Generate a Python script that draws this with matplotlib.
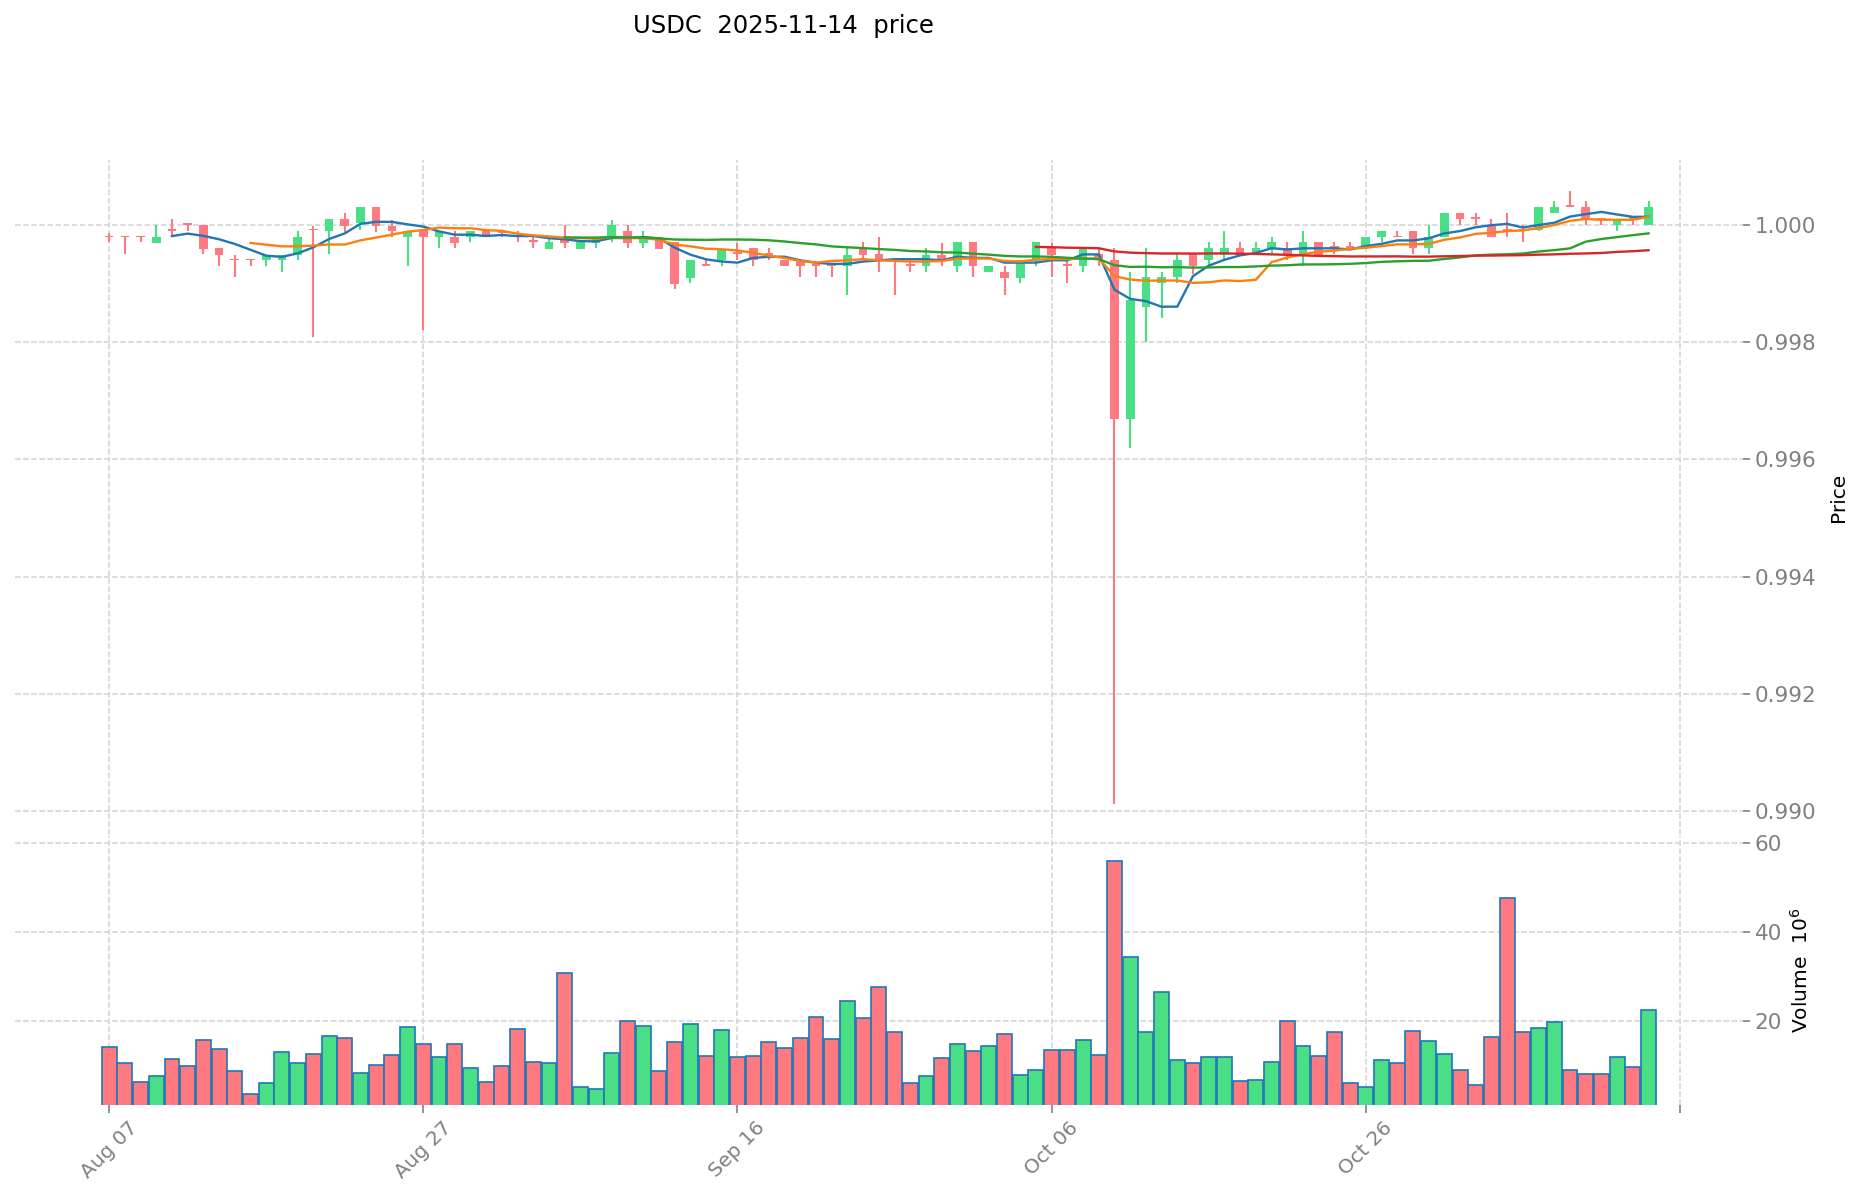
import matplotlib
matplotlib.use("Agg")
import matplotlib.pyplot as plt
import numpy as np
import pandas as pd
import datetime as dt

# daily candles, Aug 07 .. Nov 13 2025
opens = [0.99978, 0.99978, 0.99978, 0.99969, 0.99989, 0.99999, 0.99999, 0.99960, 0.99939, 0.99939,
         0.99939, 0.99939, 0.99949, 0.99990, 0.99989, 1.00010, 1.00003, 1.00030, 0.99997, 0.99978,
         0.99990, 0.99978, 0.99979, 0.99978, 0.99989, 0.99986, 0.99980, 0.99970, 0.99959, 0.99978,
         0.99959, 0.99969, 0.99978, 0.99989, 0.99969, 0.99978, 0.99970, 0.99909, 0.99929, 0.99939,
         0.99950, 0.99960, 0.99949, 0.99939, 0.99939, 0.99929, 0.99929, 0.99929, 0.99960, 0.99950,
         0.99939, 0.99929, 0.99929, 0.99949, 0.99929, 0.99970, 0.99919, 0.99920, 0.99909, 0.99939,
         0.99960, 0.99929, 0.99929, 0.99950, 0.99940, 0.99669, 0.99859, 0.99900, 0.99910, 0.99950,
         0.99939, 0.99949, 0.99960, 0.99949, 0.99960, 0.99960, 0.99949, 0.99970, 0.99960, 0.99960,
         0.99960, 0.99978, 0.99978, 0.99989, 0.99960, 0.99978, 1.00020, 1.00010, 0.99999, 0.99989,
         0.99989, 0.99991, 1.00020, 1.00030, 1.00030, 1.00008, 0.99999, 1.00010, 0.99999]
highs = [0.99986, 0.99978, 0.99978, 0.99999, 1.00010, 0.99999, 0.99999, 0.99960, 0.99948, 0.99939,
         0.99949, 0.99949, 0.99989, 0.99998, 1.00010, 1.00019, 1.00030, 1.00030, 1.00008, 0.99989,
         0.99990, 0.99989, 0.99989, 0.99989, 0.99989, 0.99989, 0.99989, 0.99978, 0.99977, 0.99999,
         0.99970, 0.99978, 1.00008, 0.99999, 0.99989, 0.99978, 0.99970, 0.99939, 0.99939, 0.99959,
         0.99969, 0.99960, 0.99960, 0.99939, 0.99939, 0.99929, 0.99929, 0.99960, 0.99970, 0.99978,
         0.99939, 0.99939, 0.99960, 0.99969, 0.99970, 0.99970, 0.99929, 0.99929, 0.99939, 0.99970,
         0.99969, 0.99939, 0.99959, 0.99960, 0.99960, 0.99919, 0.99960, 0.99919, 0.99950, 0.99950,
         0.99970, 0.99989, 0.99970, 0.99970, 0.99978, 0.99970, 0.99989, 0.99970, 0.99970, 0.99970,
         0.99978, 0.99989, 0.99989, 0.99989, 0.99999, 1.00020, 1.00020, 1.00019, 1.00009, 1.00019,
         0.99999, 1.00030, 1.00040, 1.00058, 1.00040, 1.00008, 1.00008, 1.00010, 1.00040]
lows = [0.99970, 0.99950, 0.99970, 0.99969, 0.99980, 0.99989, 0.99950, 0.99929, 0.99911, 0.99929,
        0.99929, 0.99920, 0.99939, 0.99808, 0.99950, 0.99987, 0.99990, 0.99987, 0.99979, 0.99930,
        0.99821, 0.99960, 0.99960, 0.99970, 0.99978, 0.99978, 0.99970, 0.99960, 0.99959, 0.99960,
        0.99959, 0.99960, 0.99970, 0.99960, 0.99960, 0.99959, 0.99891, 0.99900, 0.99929, 0.99929,
        0.99939, 0.99929, 0.99939, 0.99929, 0.99911, 0.99911, 0.99911, 0.99880, 0.99939, 0.99920,
        0.99880, 0.99920, 0.99920, 0.99929, 0.99920, 0.99911, 0.99919, 0.99880, 0.99900, 0.99929,
        0.99911, 0.99900, 0.99920, 0.99930, 0.99012, 0.99620, 0.99800, 0.99841, 0.99900, 0.99916,
        0.99929, 0.99939, 0.99949, 0.99949, 0.99950, 0.99939, 0.99929, 0.99949, 0.99950, 0.99960,
        0.99960, 0.99970, 0.99978, 0.99950, 0.99950, 0.99978, 0.99999, 0.99999, 0.99978, 0.99978,
        0.99970, 0.99989, 1.00020, 1.00030, 0.99999, 0.99999, 0.99989, 0.99999, 0.99999]
closes = [0.99978, 0.99978, 0.99978, 0.99979, 0.99989, 0.99999, 0.99959, 0.99949, 0.99939, 0.99939,
          0.99949, 0.99949, 0.99979, 0.99990, 1.00010, 0.99997, 1.00030, 0.99997, 0.99989, 0.99989,
          0.99978, 0.99989, 0.99969, 0.99989, 0.99978, 0.99986, 0.99980, 0.99970, 0.99970, 0.99969,
          0.99970, 0.99978, 0.99999, 0.99969, 0.99978, 0.99959, 0.99899, 0.99939, 0.99929, 0.99959,
          0.99950, 0.99939, 0.99949, 0.99929, 0.99929, 0.99929, 0.99929, 0.99949, 0.99949, 0.99939,
          0.99939, 0.99929, 0.99949, 0.99939, 0.99970, 0.99929, 0.99929, 0.99909, 0.99939, 0.99970,
          0.99949, 0.99929, 0.99959, 0.99939, 0.99669, 0.99871, 0.99910, 0.99911, 0.99940, 0.99929,
          0.99960, 0.99960, 0.99949, 0.99960, 0.99970, 0.99949, 0.99970, 0.99949, 0.99960, 0.99960,
          0.99978, 0.99989, 0.99978, 0.99960, 0.99978, 1.00020, 1.00009, 1.00010, 0.99978, 0.99989,
          0.99989, 1.00030, 1.00030, 1.00030, 1.00010, 1.00008, 1.00008, 1.00010, 1.00030]
volumes = [14.1, 10.5, 6.2, 7.6, 11.5, 9.8, 15.7, 13.7, 8.7, 3.4,
           6.0, 13.0, 10.5, 12.5, 16.6, 16.1, 8.2, 10.0, 12.3, 18.6,
           14.8, 11.8, 14.8, 9.4, 6.2, 9.8, 18.1, 10.7, 10.5, 30.7,
           5.1, 4.6, 12.7, 19.9, 18.8, 8.7, 15.2, 19.3, 12.1, 17.9,
           11.8, 12.1, 15.2, 13.9, 16.1, 20.8, 15.9, 24.4, 20.6, 27.6,
           17.5, 6.0, 7.6, 11.6, 14.8, 13.2, 14.3, 17.0, 7.8, 8.9,
           13.4, 13.4, 15.7, 12.3, 56.1, 34.3, 17.5, 26.4, 11.2, 10.5,
           11.8, 11.8, 6.4, 6.7, 10.7, 19.9, 14.3, 12.1, 17.5, 6.0,
           5.1, 11.2, 10.5, 17.7, 15.4, 12.5, 8.9, 5.5, 16.3, 47.6,
           17.5, 18.4, 19.7, 8.9, 8.0, 8.0, 11.8, 9.6, 22.4]  # x 1e6

mav_periods = [5, 10, 30, 60]
mav_colors = ["#1f77b4", "#ff7f0e", "#2ca02c", "#d62728"]

start = dt.date(2025, 8, 7)
dates = [start + dt.timedelta(days=i) for i in range(len(closes))]

o = np.array(opens)
h = np.array(highs)
l = np.array(lows)
c = np.array(closes)
v = np.array(volumes)
x = np.arange(len(c))

up_col = "#4ade85"
down_col = "#ff7a80"
up = c > o
cols = np.where(up, up_col, down_col)
grid_col = "#d3d3d3"
tick_col = "#808080"

fig = plt.figure(figsize=(18.6, 12.02), dpi=100)
ax = fig.add_axes([0.008, 0.3053, 0.929, 0.5617])
axv = fig.add_axes([0.008, 0.0807, 0.929, 0.2240], sharex=ax)

# candles
ax.vlines(x, l, h, colors=cols, linewidth=1.5, zorder=2)
body_lo = np.minimum(o, c)
body_h = np.maximum(np.abs(c - o), 0.00003)
ax.bar(x, body_h, bottom=body_lo, width=0.55, color=cols, linewidth=0, zorder=3)

# moving averages
s = pd.Series(c)
for p, col in zip(mav_periods, mav_colors):
    ax.plot(x, s.rolling(p).mean(), color=col, linewidth=1.7, zorder=4)

rng = h.max() - l.min()
ax.set_ylim(l.min() - 0.05 * rng, h.max() + 0.05 * rng)
ax.set_xlim(-6, 104)

# volume
axv.bar(x, v, width=0.95, color=cols, edgecolor="#1f77b4", linewidth=1.2, zorder=3)
axv.set_ylim(0.3 * v.min(), 1.1 * v.max())

tick_pos = [0, 20, 40, 60, 80, 100]
tick_lab = [dates[i].strftime("%b %d") if i < len(dates) else "" for i in tick_pos]
axv.set_xticks(tick_pos)
axv.set_xticklabels(tick_lab, rotation=45, fontsize=14.5, color=tick_col)

ax.set_yticks(np.arange(0.990, 1.0005, 0.002))
ax.set_yticklabels(["%.3f" % t for t in np.arange(0.990, 1.0005, 0.002)])
axv.set_yticks([20, 40, 60])

for a in (ax, axv):
    for sp in a.spines.values():
        sp.set_visible(False)
    a.yaxis.tick_right()
    a.yaxis.set_label_position("right")
    a.tick_params(axis="y", colors=tick_col, labelsize=15.5, length=5, width=1.2)
    a.grid(True, linestyle="--", color=grid_col, linewidth=1.1, zorder=0)
    a.set_axisbelow(True)

ax.tick_params(axis="x", length=0, labelbottom=False)
axv.tick_params(axis="x", colors=tick_col, length=6, width=1.2)

ax.set_ylabel("Price", fontsize=14.5, labelpad=9)
axv.set_ylabel("Volume  $10^{6}$", fontsize=14.5, labelpad=6)

fig.text(0.421, 0.978, "USDC  2025-11-14  price", ha="center", va="center", fontsize=17.5)

plt.savefig("out.png", dpi=100)
